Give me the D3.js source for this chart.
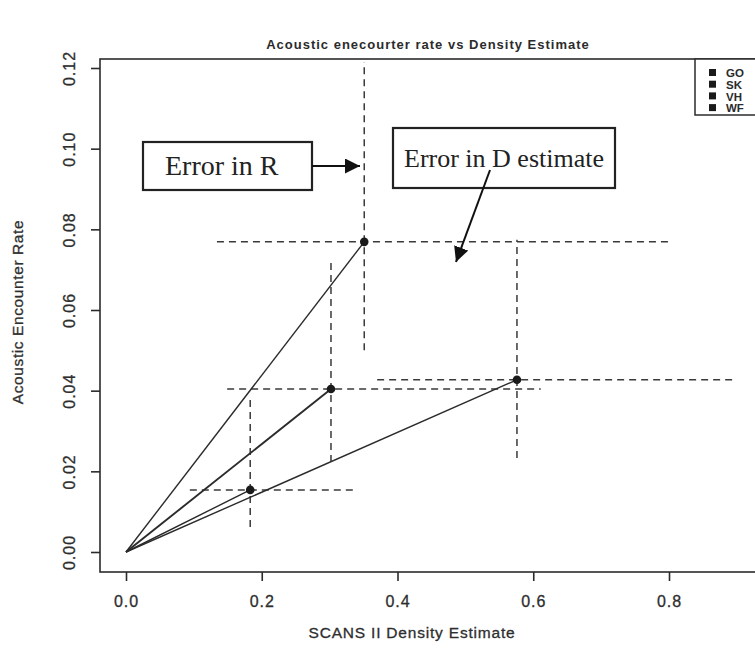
<!DOCTYPE html>
<html>
<head>
<meta charset="utf-8">
<script src="https://cdn.jsdelivr.net/npm/d3@7"></script>
<style>
  body { margin: 0; background: #fff; }
  svg { display: block; }
</style>
</head>
<body>
<div id="chart"></div>
<script>
// points: SCANS II density vs acoustic encounter rate
var density   = [0.351, 0.302, 0.183, 0.576];
var rate      = [0.0769, 0.0404, 0.0154, 0.0427];
var densityLo = [0.134, 0.149, 0.094, 0.370];
var densityHi = [0.799, 0.611, 0.340, 0.897];
var rateLo    = [0.0500, 0.0223, 0.0062, 0.0233];
var rateHi    = [0.1215, 0.0720, 0.0377, 0.0774];
var legendLabels = ["GO", "SK", "VH", "WF"];
var xTicks = [0, 0.2, 0.4, 0.6, 0.8];
var yTicks = [0, 0.02, 0.04, 0.06, 0.08, 0.10, 0.12];

var W = 755, H = 660;
var ink = "#2b2b2b";
var sans = "Liberation Sans, Arial, sans-serif";

var svg = d3.select("#chart").append("svg")
    .attr("width", W).attr("height", H);

var x = d3.scaleLinear().domain([0, 0.8]).range([126, 669]);
var y = d3.scaleLinear().domain([0, 0.12]).range([552, 68]);

var box = { left: 100, top: 59, bottom: 572, right: 900 };

// title
svg.append("text")
    .attr("x", 428).attr("y", 49)
    .attr("text-anchor", "middle")
    .style("font-family", sans)
    .style("font-weight", "bold")
    .style("font-size", "13px")
    .style("letter-spacing", "1px")
    .attr("fill", ink)
    .text("Acoustic enecourter rate vs Density Estimate");

// plot frame
svg.append("rect")
    .attr("x", box.left).attr("y", box.top)
    .attr("width", box.right - box.left).attr("height", box.bottom - box.top)
    .attr("fill", "none").attr("stroke", ink).attr("stroke-width", 1.6);

// axes
var xAxis = d3.axisBottom(x).tickValues(xTicks).tickSize(9).tickPadding(15)
    .tickFormat(d3.format(".1f"));
var gx = svg.append("g").attr("transform", "translate(0," + box.bottom + ")").call(xAxis);
gx.select(".domain").remove();

var yAxis = d3.axisLeft(y).tickValues(yTicks).tickSize(9).tickPadding(6)
    .tickFormat(d3.format(".2f"));
var gy = svg.append("g").attr("transform", "translate(" + box.left + ",0)").call(yAxis);
gy.select(".domain").remove();

svg.selectAll(".tick line").attr("stroke", ink).attr("stroke-width", 1.6);
svg.selectAll(".tick text")
    .style("font-family", sans)
    .style("font-size", "16px")
    .style("letter-spacing", "1px")
    .attr("fill", "#2e2e2e")
    .attr("stroke", "#2e2e2e").attr("stroke-width", 0.3);

gy.selectAll(".tick text")
    .attr("text-anchor", "middle")
    .attr("transform", "rotate(-90)")
    .attr("x", 0)
    .attr("y", -31)
    .attr("dy", "0.35em");

// axis labels
svg.append("text")
    .attr("x", 412).attr("y", 638)
    .attr("text-anchor", "middle")
    .style("font-family", sans)
    .style("font-size", "15.5px")
    .style("letter-spacing", "0.8px")
    .attr("fill", "#2e2e2e")
    .attr("stroke", "#2e2e2e").attr("stroke-width", 0.3)
    .text("SCANS II Density Estimate");

svg.append("text")
    .attr("transform", "translate(23,312) rotate(-90)")
    .attr("text-anchor", "middle")
    .style("font-family", sans)
    .style("font-size", "15.5px")
    .style("letter-spacing", "0.6px")
    .attr("fill", "#2e2e2e")
    .attr("stroke", "#2e2e2e").attr("stroke-width", 0.3)
    .text("Acoustic Encounter Rate");

var idx = d3.range(density.length);

// error bars
svg.selectAll(".errx").data(idx).enter().append("line")
    .attr("x1", function (i) { return x(densityLo[i]); })
    .attr("x2", function (i) { return x(densityHi[i]); })
    .attr("y1", function (i) { return y(rate[i]); })
    .attr("y2", function (i) { return y(rate[i]); })
    .attr("stroke", "#3a3a3a").attr("stroke-width", 1.5)
    .attr("stroke-dasharray", "7,5");

svg.selectAll(".erry").data(idx).enter().append("line")
    .attr("x1", function (i) { return x(density[i]); })
    .attr("x2", function (i) { return x(density[i]); })
    .attr("y1", function (i) { return y(rateLo[i]); })
    .attr("y2", function (i) { return y(rateHi[i]); })
    .attr("stroke", "#3a3a3a").attr("stroke-width", 1.5)
    .attr("stroke-dasharray", "7,5");

// lines from origin
svg.selectAll(".ray").data(idx).enter().append("line")
    .attr("x1", x(0)).attr("y1", y(0))
    .attr("x2", function (i) { return x(density[i]); })
    .attr("y2", function (i) { return y(rate[i]); })
    .attr("stroke", ink)
    .attr("stroke-width", function (i) { return i === 1 ? 1.9 : 1.4; });

svg.selectAll(".pt").data(idx).enter().append("circle")
    .attr("cx", function (i) { return x(density[i]); })
    .attr("cy", function (i) { return y(rate[i]); })
    .attr("r", 4.3)
    .attr("fill", "#1a1a1a");

// legend
var lg = svg.append("g");
lg.append("rect")
    .attr("x", 695).attr("y", box.top)
    .attr("width", 100).attr("height", 56)
    .attr("fill", "#fff").attr("stroke", ink).attr("stroke-width", 1.5);
var le = lg.selectAll(".le").data(legendLabels).enter().append("g")
    .attr("transform", function (d, i) { return "translate(709," + (73 + i * 11.7) + ")"; });
le.append("rect").attr("x", 0).attr("y", -4).attr("width", 7).attr("height", 7).attr("fill", "#1a1a1a");
le.append("text").attr("x", 17).attr("y", 0).attr("dy", "0.38em")
    .style("font-family", sans)
    .style("font-weight", "bold")
    .style("font-size", "11.5px")
    .attr("fill", ink)
    .text(function (d) { return d; });

// annotations
svg.append("defs").append("marker")
    .attr("id", "arr").attr("viewBox", "0 0 10 10")
    .attr("refX", 10).attr("refY", 5)
    .attr("markerWidth", 15).attr("markerHeight", 15)
    .attr("markerUnits", "userSpaceOnUse")
    .attr("orient", "auto")
    .append("path").attr("d", "M0,0 L10,5 L0,10 Z").attr("fill", "#111");

var notes = [
    { text: "Error in R", x: 143, y: 142, w: 169, h: 48, tx: 165, size: 28, ax1: 312, ay1: 166, ax2: 360, ay2: 166 },
    { text: "Error in D estimate", x: 393, y: 128, w: 222, h: 60, tx: 404, size: 26, ax1: 490, ay1: 170, ax2: 456, ay2: 262 }
];
notes.forEach(function (n) {
    svg.append("rect")
        .attr("x", n.x).attr("y", n.y).attr("width", n.w).attr("height", n.h)
        .attr("fill", "#fff").attr("stroke", "#222").attr("stroke-width", 2.2);
    svg.append("text")
        .attr("x", n.tx).attr("y", n.y + n.h / 2 + 9)
        .style("font-family", "Liberation Serif, Times New Roman, serif")
        .style("font-size", n.size + "px")
        .attr("fill", "#222")
        .text(n.text);
    svg.append("line")
        .attr("x1", n.ax1).attr("y1", n.ay1).attr("x2", n.ax2).attr("y2", n.ay2)
        .attr("stroke", "#111").attr("stroke-width", 2)
        .attr("marker-end", "url(#arr)");
});
</script>
</body>
</html>
